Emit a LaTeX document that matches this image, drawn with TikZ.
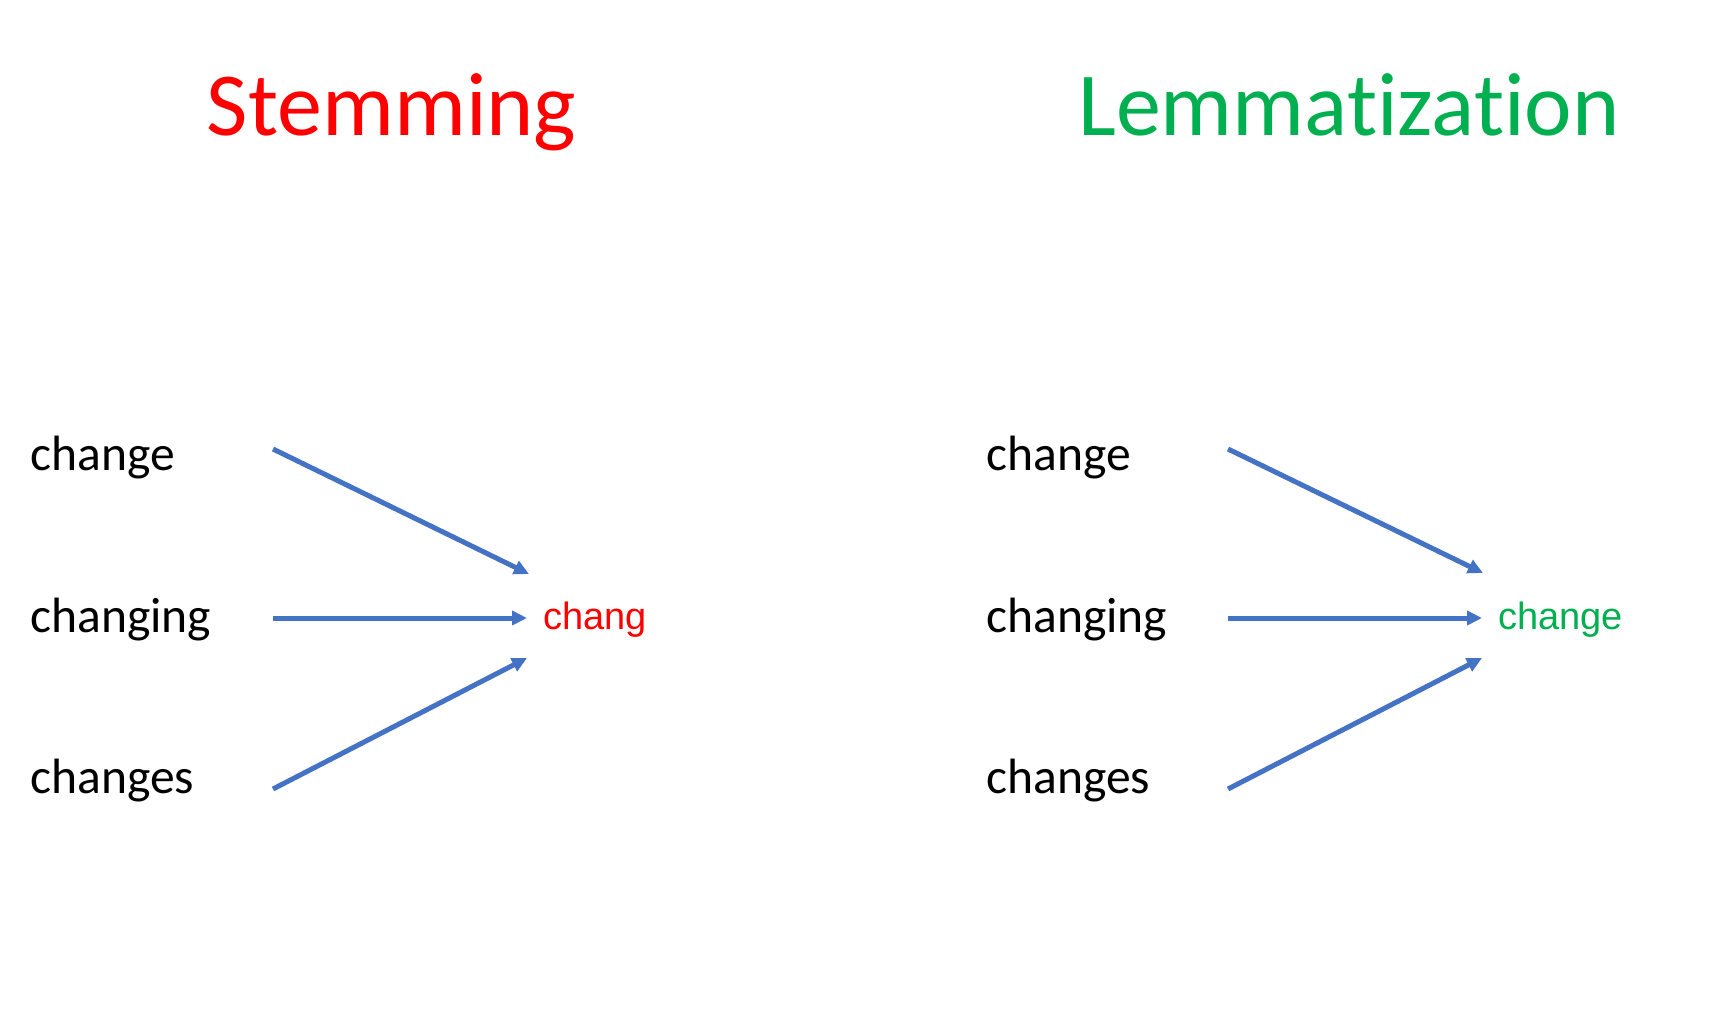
\documentclass[tikz,border=0pt]{standalone}
\usepackage{fontspec}
\setmainfont{Carlito}[Ligatures=NoCommon]
\newfontfamily\arialfont{Liberation Sans}
\usetikzlibrary{arrows.meta}
\definecolor{arrowblue}{HTML}{4472C4}
\definecolor{stemred}{HTML}{FF0000}
\definecolor{lemgreen}{HTML}{00B050}
\begin{document}
\begin{tikzpicture}[x=0.5pt,y=-0.5pt,
  word/.style={inner sep=0pt,anchor=base west,font=\fontsize{24.8pt}{29pt}\selectfont,text=black},
  title/.style={inner sep=0pt,anchor=base,font=\fontsize{45pt}{54pt}\selectfont},
  result/.style={inner sep=0pt,anchor=base west,font=\arialfont\fontsize{19pt}{23pt}\selectfont},
  conn/.style={draw=arrowblue,line width=2.5pt,-{Triangle[length=7.5pt,width=7pt]}}]
\useasboundingbox[fill=white] (0,0) rectangle (1724,1008);
% titles
\node[title,text=stemred] (t1) at (391.5,135) {Stemming};
\node[title,text=lemgreen] (t2) at (1349,135) {Lemmatization};
% left group
\node[word] (a1) at (30,470) {change};
\node[word] (a2) at (30,632) {changing};
\node[word] (a3) at (30,793) {changes};
\node[result,text=stemred] (ra) at (543,629) {chang};
\coordinate (as1) at (273,449);
\coordinate (as2) at (273,618);
\coordinate (as3) at (273,789);
\coordinate (ae1) at (529,574);
\coordinate (ae2) at (527,618);
\coordinate (ae3) at (527,658);
\draw[conn] (as1) -- (ae1);
\draw[conn] (as2) -- (ae2);
\draw[conn] (as3) -- (ae3);
% right group
\node[word] (b1) at (986,470) {change};
\node[word] (b2) at (986,632) {changing};
\node[word] (b3) at (986,793) {changes};
\node[result,text=lemgreen] (rb) at (1498,629) {change};
\coordinate (bs1) at (1228,449);
\coordinate (bs2) at (1228,618);
\coordinate (bs3) at (1228,789);
\coordinate (be1) at (1483,573);
\coordinate (be2) at (1482,618);
\coordinate (be3) at (1482,658);
\draw[conn] (bs1) -- (be1);
\draw[conn] (bs2) -- (be2);
\draw[conn] (bs3) -- (be3);
\end{tikzpicture}
\end{document}
